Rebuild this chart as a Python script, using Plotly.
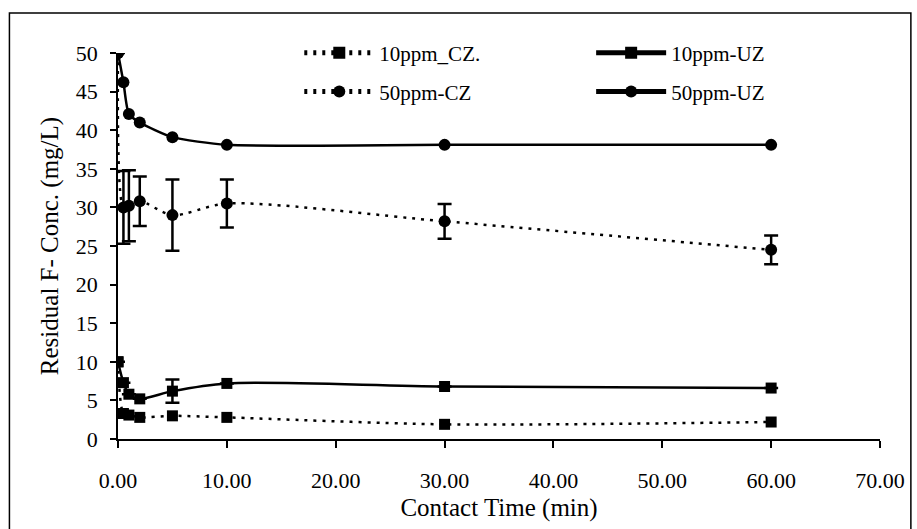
import plotly.graph_objects as go

# Data
time_min = [0, 0.5, 1, 2, 5, 10, 30, 60]

cz10 = [10.0, 3.3, 3.1, 2.8, 3.0, 2.8, 1.9, 2.2]
uz10 = [10.0, 7.3, 5.8, 5.2, 6.2, 7.2, 6.8, 6.6]
uz10_err = [0, 0, 0, 0, 1.5, 0, 0, 0]

cz50 = [50.0, 30.0, 30.2, 30.8, 29.0, 30.5, 28.2, 24.5]
cz50_err = [0, 4.7, 4.6, 3.2, 4.6, 3.1, 2.25, 1.85]
uz50 = [50.0, 46.2, 42.1, 41.0, 39.1, 38.1, 38.1, 38.1]

x_ticks = [0, 10, 20, 30, 40, 50, 60, 70]
x_ticklabels = ["0.00", "10.00", "20.00", "30.00", "40.00", "50.00", "60.00", "70.00"]
y_ticks = [0, 5, 10, 15, 20, 25, 30, 35, 40, 45, 50]

FONT = "Liberation Serif"
BLACK = "black"

fig = go.Figure()

dot = "3px,6px"

fig.add_trace(go.Scatter(
    x=time_min, y=cz10, name="10ppm_CZ.", mode="lines+markers",
    line=dict(color=BLACK, width=2.5, dash=dot, shape="spline", smoothing=0.8),
    marker=dict(symbol="square", size=11, color=BLACK),
    legend="legend",
))
fig.add_trace(go.Scatter(
    x=time_min, y=uz10, name="10ppm-UZ", mode="lines+markers",
    line=dict(color=BLACK, width=2.5, shape="spline", smoothing=0.8),
    marker=dict(symbol="square", size=11, color=BLACK),
    error_y=dict(type="data", array=uz10_err, color=BLACK, thickness=2.5, width=7),
    legend="legend2",
))
fig.add_trace(go.Scatter(
    x=time_min, y=cz50, name="50ppm-CZ", mode="lines+markers",
    line=dict(color=BLACK, width=2.5, dash=dot, shape="spline", smoothing=0.8),
    marker=dict(symbol="circle", size=12, color=BLACK),
    error_y=dict(type="data", array=cz50_err, color=BLACK, thickness=2.5, width=7),
    legend="legend3",
))
fig.add_trace(go.Scatter(
    x=time_min, y=uz50, name="50ppm-UZ", mode="lines+markers",
    line=dict(color=BLACK, width=2.5, shape="spline", smoothing=0.6),
    marker=dict(symbol="circle", size=12, color=BLACK),
    legend="legend4",
))

L, R, T, B = 118, 34, 53, 89
W, H = 917, 529
pw = W - L - R
ph = H - T - B


def px2paper_x(px):
    return (px - L) / pw


def px2paper_y(py):
    return (H - B - py) / ph


leg_common = dict(
    font=dict(family=FONT, size=21, color=BLACK),
    bgcolor="rgba(0,0,0,0)",
    itemwidth=70,
    itemsizing="constant",
    xanchor="left",
    yanchor="middle",
)

fig.update_layout(
    width=W, height=H,
    margin=dict(l=L, r=R, t=T, b=B),
    paper_bgcolor="white",
    plot_bgcolor="white",
    showlegend=True,
    font=dict(family=FONT, size=21, color=BLACK),
    legend=dict(x=px2paper_x(300), y=px2paper_y(53), **leg_common),
    legend2=dict(x=px2paper_x(593), y=px2paper_y(53), **leg_common),
    legend3=dict(x=px2paper_x(300), y=px2paper_y(92), **leg_common),
    legend4=dict(x=px2paper_x(593), y=px2paper_y(92), **leg_common),
    xaxis=dict(
        range=[0, 70], tickvals=x_ticks, ticktext=x_ticklabels,
        showgrid=False, zeroline=False,
        showline=True, linecolor=BLACK, linewidth=1.5,
        ticks="outside", ticklen=7, tickwidth=1.5, tickcolor=BLACK,
        ticklabelstandoff=14,
        tickfont=dict(family=FONT, size=22, color=BLACK),
        title=dict(text="Contact Time (min)", font=dict(family=FONT, size=25, color=BLACK), standoff=6),
    ),
    yaxis=dict(
        range=[0, 50], tickvals=y_ticks,
        showgrid=False, zeroline=False,
        showline=True, linecolor=BLACK, linewidth=1.5,
        ticks="outside", ticklen=6, tickwidth=1.5, tickcolor=BLACK,
        ticklabelstandoff=8,
        tickfont=dict(family=FONT, size=22, color=BLACK),
        title=dict(text="Residual F- Conc. (mg/L)", font=dict(family=FONT, size=25, color=BLACK), standoff=10),
    ),
    shapes=[
        dict(type="rect", xref="paper", yref="paper",
             x0=px2paper_x(9), x1=px2paper_x(914),
             y0=px2paper_y(545), y1=px2paper_y(13),
             line=dict(color=BLACK, width=1.5), layer="below"),
    ],
)

fig.write_html("out.html")
